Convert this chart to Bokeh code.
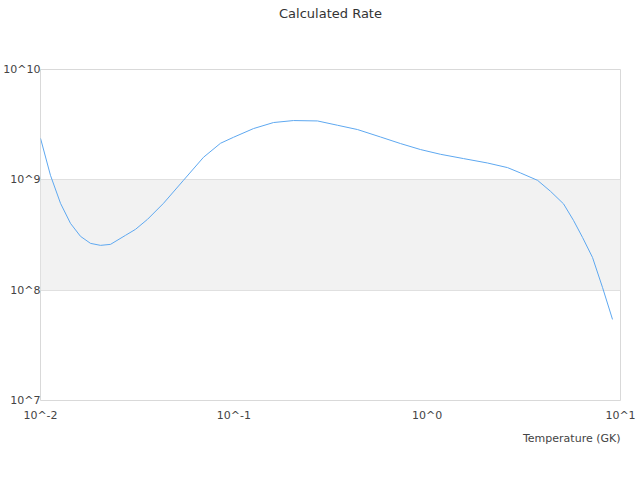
from bokeh.plotting import figure
from bokeh.models import (Title, LogAxis, BoxAnnotation, FixedTicker, CustomJSTickFormatter,
                          ColumnDataSource, Range1d)
from bokeh.embed import file_html
from bokeh.resources import INLINE

# ---- data ----
temperature = [0.0100, 0.01126, 0.01269, 0.01429, 0.01610, 0.01814, 0.02044, 0.02302,
               0.02752, 0.03100, 0.03577, 0.04327, 0.05491, 0.06967, 0.08532, 0.09961,
               0.1264, 0.1604, 0.2035, 0.2709, 0.3438, 0.4362, 0.5735, 0.7278, 0.9237,
               1.172, 1.542, 2.051, 2.603, 3.040, 3.722, 4.345, 5.073, 5.713, 6.360,
               7.165, 8.070, 9.093]
rate = [2.381e9, 1.099e9, 6.126e8, 4.033e8, 3.075e8, 2.656e8, 2.547e8, 2.601e8,
        3.140e8, 3.558e8, 4.385e8, 6.126e8, 9.904e8, 1.601e9, 2.145e9, 2.431e9,
        2.915e9, 3.306e9, 3.446e9, 3.418e9, 3.124e9, 2.856e9, 2.446e9, 2.132e9, 1.881e9,
        1.704e9, 1.558e9, 1.421e9, 1.291e9, 1.154e9, 9.90e8, 7.87e8, 6.06e8, 4.29e8, 3.01e8,
        1.98e8, 1.06e8, 5.43e7]
x_ticks = [0.01, 0.1, 1, 10]
y_ticks = [1e7, 1e8, 1e9, 1e10]
band = (1e8, 1e9)
title_text = "Calculated Rate"
x_title = "Temperature (GK)"

FONT = "DejaVu Sans"
W, H = 640, 480

p = figure(width=W, height=H, x_axis_type="log", y_axis_type="log",
           x_range=Range1d(x_ticks[0], x_ticks[-1]), y_range=Range1d(y_ticks[0], y_ticks[-1]),
           output_backend="svg", toolbar_location=None,
           min_border_left=40, min_border_right=20, min_border_top=69, min_border_bottom=80)
p.background_fill_color = "white"
p.border_fill_color = "white"
p.outline_line_color = "#d9d9d9"
p.outline_line_width = 1

# the figure's own axes, taken before any other axis is added
xa = p.below[0]
ya = p.left[0]

p.title.text = ""
try:
    p.title_location = None
except Exception:
    pass

def no_ticks(ax):
    ax.axis_line_color = None
    ax.major_tick_line_color = None
    ax.minor_tick_line_color = None
    ax.major_tick_out = 0
    ax.major_tick_in = 0
    ax.minor_tick_out = 0
    ax.minor_tick_in = 0

# chart title: label of a tick-less axis above the frame
top = LogAxis(ticker=FixedTicker(ticks=[]), axis_label=title_text)
no_ticks(top)
top.axis_label_standoff = 49
top.axis_label_text_font = FONT
top.axis_label_text_font_size = "13px"
top.axis_label_text_font_style = "normal"
top.axis_label_text_color = "#333333"
p.add_layout(top, "above")

# band
p.add_layout(BoxAnnotation(bottom=band[0], top=band[1], fill_color="#f2f2f2",
                           fill_alpha=1.0, line_color=None, level="image"))

# grids
p.xgrid.visible = False
p.ygrid.ticker = FixedTicker(ticks=y_ticks)
p.ygrid.grid_line_color = "#e0e0e0"
p.ygrid.grid_line_width = 1

fmt = CustomJSTickFormatter(code="return '10^' + Math.round(Math.log10(tick));")

# x axis
xa.ticker = FixedTicker(ticks=x_ticks)
xa.formatter = fmt
xa.major_label_standoff = 8

# y axis
ya.ticker = FixedTicker(ticks=y_ticks)
ya.formatter = fmt
ya.major_label_standoff = 0

for ax in (xa, ya):
    no_ticks(ax)
    ax.major_label_text_font = FONT
    ax.major_label_text_font_size = "11px"
    ax.major_label_text_color = "#444444"

# x axis title, right-aligned below the axis
xt = Title(text=x_title, align="right", text_font=FONT, text_font_size="11px",
           text_font_style="normal", text_color="#444444")
p.add_layout(xt, "below")

# series
src = ColumnDataSource(dict(x=temperature, y=rate))
p.line("x", "y", source=src, line_color="#5ea8f0", line_width=1)

open("out.html", "w").write(file_html(p, INLINE))
